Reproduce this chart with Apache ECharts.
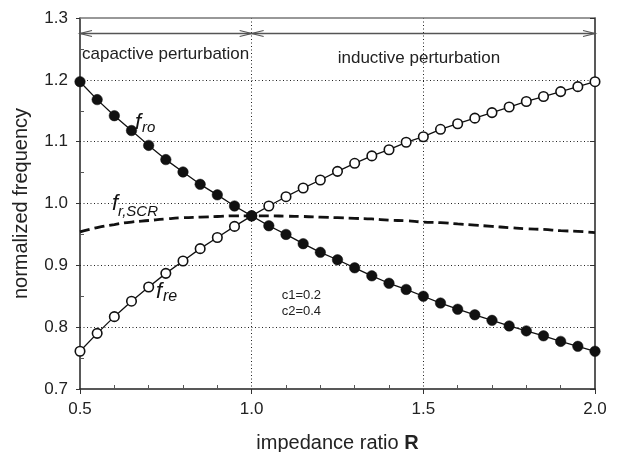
<!DOCTYPE html>
<html>
<head>
<meta charset="utf-8">
<script src="https://cdn.jsdelivr.net/npm/echarts@6/dist/echarts.min.js"></script>
<style>
html,body{margin:0;padding:0;background:#fff;}
#chart{width:618px;height:452px;}
</style>
</head>
<body>
<div id="chart"></div>
<script>
// impedance ratio R
const R = [0.50,0.55,0.60,0.65,0.70,0.75,0.80,0.85,0.90,0.95,1.00,1.05,1.10,1.15,1.20,1.25,1.30,1.35,1.40,1.45,1.50,1.55,1.60,1.65,1.70,1.75,1.80,1.85,1.90,1.95,2.00];
// f_ro (filled circles)
const fro = [1.197,1.168,1.142,1.118,1.094,1.071,1.051,1.031,1.014,0.996,0.980,0.964,0.950,0.935,0.921,0.909,0.896,0.883,0.871,0.861,0.850,0.839,0.829,0.820,0.811,0.802,0.794,0.786,0.777,0.769,0.761];
// f_re (open circles)
const fre = [0.761,0.790,0.817,0.842,0.865,0.887,0.907,0.927,0.945,0.963,0.980,0.996,1.011,1.025,1.038,1.052,1.065,1.077,1.087,1.099,1.108,1.120,1.129,1.138,1.147,1.156,1.165,1.173,1.181,1.189,1.197];
// f_r,SCR (dashed)
const fscr = [0.954,0.961,0.966,0.970,0.9725,0.975,0.977,0.978,0.979,0.980,0.980,0.980,0.9795,0.979,0.978,0.977,0.976,0.975,0.973,0.972,0.970,0.969,0.967,0.965,0.963,0.961,0.959,0.958,0.956,0.955,0.953];
const xTicks = [0.5,1.0,1.5,2.0];
const yTicks = [0.7,0.8,0.9,1.0,1.1,1.2,1.3];
const regions = [
  {from:0.5, to:1.0, label:'capactive perturbation'},
  {from:1.0, to:2.0, label:'inductive perturbation'}
];
const arrowY = 1.275;
const params = ['c1=0.2','c2=0.4'];

const FONT = '"Liberation Sans", Arial, Helvetica, sans-serif';
const chart = echarts.init(document.getElementById('chart'), null, {renderer:'canvas'});

const pair = arr => R.map((r,i)=>[r, arr[i]]);

const option = {
  animation:false,
  backgroundColor:'#fff',
  grid:{left:80, right:23, top:18, bottom:63, containLabel:false, outerBoundsMode:'none'},
  xAxis:[{
    type:'value', min:xTicks[0], max:xTicks[xTicks.length-1], interval:0.5,
    axisLine:{show:true, onZero:false, lineStyle:{color:'#222', width:1.5}},
    axisTick:{show:true, inside:false, length:5, lineStyle:{color:'#333', width:1}},
    minorTick:{show:true, splitNumber:5, length:-4, lineStyle:{color:'#555', width:1}},
    axisLabel:{margin:12, fontSize:17, color:'#222', fontFamily:FONT, formatter:v=>v.toFixed(1)},
    splitLine:{show:true, showMinLine:false, showMaxLine:false, lineStyle:{color:'#222', type:[1,2.5], width:1}},
    name:'impedance ratio {b|R}', nameLocation:'middle', nameGap:44,
    nameTextStyle:{fontSize:20, color:'#222', fontFamily:FONT, rich:{b:{fontSize:20, fontWeight:'bold', color:'#222', fontFamily:FONT}}}
  },{
    type:'value', position:'top', min:xTicks[0], max:xTicks[xTicks.length-1], interval:0.5,
    axisLine:{show:true, onZero:false, lineStyle:{color:'#777', width:1.5}},
    axisTick:{show:false}, axisLabel:{show:false}, splitLine:{show:false}
  }],
  yAxis:[{
    type:'value', min:yTicks[0], max:yTicks[yTicks.length-1], interval:0.1,
    axisLine:{show:true, onZero:false, lineStyle:{color:'#222', width:1.5}},
    axisTick:{show:true, inside:false, length:4, lineStyle:{color:'#333', width:1}},
    minorTick:{show:true, splitNumber:2, length:-4, lineStyle:{color:'#555', width:1}},
    axisLabel:{margin:12, fontSize:17, color:'#222', fontFamily:FONT, formatter:v=>v.toFixed(1)},
    splitLine:{show:true, showMinLine:false, showMaxLine:false, lineStyle:{color:'#222', type:[1,2.5], width:1}},
    name:'normalized frequency', nameLocation:'middle', nameGap:49,
    nameTextStyle:{fontSize:20, color:'#222', fontFamily:FONT}
  },{
    type:'value', position:'right', min:yTicks[0], max:yTicks[yTicks.length-1], interval:0.1,
    axisLine:{show:true, onZero:false, lineStyle:{color:'#222', width:1.5}},
    axisTick:{show:true, inside:true, length:5, lineStyle:{color:'#333', width:1}},
    axisLabel:{show:false}, splitLine:{show:false}
  }],
  series:[
    {
      name:'f_r,SCR', type:'line', data:pair(fscr), smooth:true, showSymbol:false, symbol:'none',
      lineStyle:{color:'#111', width:2.8, type:[10,5]}, z:2, silent:true
    },
    {
      name:'f_re', type:'line', data:pair(fre), symbol:'circle', symbolSize:9.5,
      itemStyle:{color:'#fff', borderColor:'#111', borderWidth:1.6},
      lineStyle:{color:'#111', width:1.3}, z:3, silent:true, emphasis:{disabled:true}
    },
    {
      name:'f_ro', type:'line', data:pair(fro), symbol:'circle', symbolSize:10.5,
      itemStyle:{color:'#111', borderColor:'#111', borderWidth:0.5},
      lineStyle:{color:'#111', width:1.3}, z:4, silent:true, emphasis:{disabled:true}
    }
  ]
};
chart.setOption(option);

// annotations positioned through the grid's coordinate system
const px = (x,y) => chart.convertToPixel({gridIndex:0}, [x,y]);
const elements = [];
const ARROW_COLOR = '#555';
regions.forEach(rg => {
  const a = px(rg.from, arrowY), b = px(rg.to, arrowY);
  elements.push({type:'line', shape:{x1:a[0], y1:a[1], x2:b[0], y2:b[1]}, style:{stroke:ARROW_COLOR, lineWidth:1.4}, z:10});
  elements.push({type:'polyline', shape:{points:[[a[0]+12,a[1]-3],[a[0],a[1]],[a[0]+12,a[1]+3]]}, style:{stroke:ARROW_COLOR, lineWidth:1.2, fill:null}, z:10});
  elements.push({type:'polyline', shape:{points:[[b[0]-12,b[1]-3],[b[0],b[1]],[b[0]-12,b[1]+3]]}, style:{stroke:ARROW_COLOR, lineWidth:1.2, fill:null}, z:10});
});
const txt = (x,y,text,size,opts) => elements.push({type:'text', x:x, y:y, z:11, style:Object.assign({text:text, fontSize:size, fontFamily:FONT, fill:'#222', align:'left', verticalAlign:'middle'}, opts||{})});
txt(82, 54, regions[0].label, 17);
txt(419, 58.5, regions[1].label, 17, {align:'center'});
// curve labels
txt(135, 123.3, 'f', 22, {fontStyle:'italic', fill:'#111'});
txt(142, 127.8, 'ro', 15, {fontStyle:'italic', fill:'#111'});
txt(112, 204.3, 'f', 22, {fontStyle:'italic', fill:'#111'});
txt(118, 211.8, 'r,SCR', 15, {fontStyle:'italic', fill:'#111'});
txt(156, 292.3, 'f', 22, {fontStyle:'italic', fill:'#111'});
txt(163, 296.4, 're', 16, {fontStyle:'italic', fill:'#111'});
txt(281.7, 295, params[0], 13);
txt(281.7, 311.7, params[1], 13);
chart.setOption({graphic:{elements:elements}});
</script>
</body>
</html>
